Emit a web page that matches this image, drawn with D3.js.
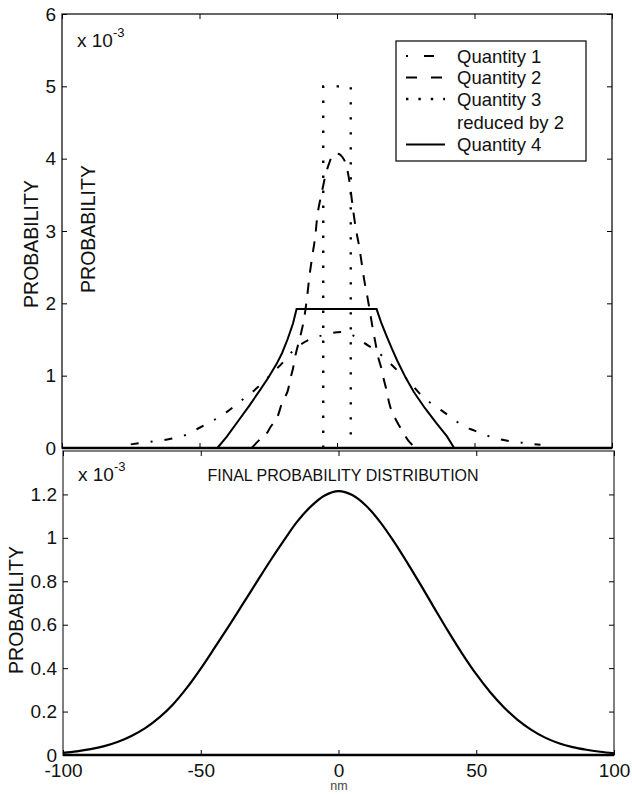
<!DOCTYPE html>
<html>
<head>
<meta charset="utf-8">
<script src="https://cdn.jsdelivr.net/npm/d3@7"></script>
<style>
  body { margin: 0; background: #fff; }
  svg { display: block; }
  text { font-family: Arial, "Liberation Sans", Helvetica, sans-serif; fill: #111; }
</style>
</head>
<body>
<svg id="canvas" width="632" height="794"></svg>
<script>
// values (probability in units of 1e-3, x in nm)
const q1X = [-75, -70, -65, -60, -55, -50, -45, -40, -35, -30, -25, -20, -15, -10, -5, 0, 3, 7, 10, 14, 18, 22, 25, 28, 32, 35, 38, 42, 46, 50, 54, 58, 62, 66, 70, 74];
const q1Y = [0.05, 0.075, 0.1, 0.13, 0.18, 0.28, 0.38, 0.5, 0.65, 0.8, 0.98, 1.17, 1.38, 1.5, 1.56, 1.6, 1.6, 1.53, 1.45, 1.35, 1.22, 1.07, 0.97, 0.84, 0.68, 0.6, 0.52, 0.41, 0.3, 0.24, 0.18, 0.13, 0.1, 0.08, 0.06, 0.045];

const q2X = [-31, -28, -26, -24, -22, -20, -18, -17, -16, -15, -14, -13, -12, -11, -10, -9, -8, -7, -6, -5, -4, -3, -2, -1, 0, 1, 2, 3, 4, 5, 6, 7, 8, 9, 10, 11, 12, 13, 14, 15, 16, 17, 18, 19, 20, 22, 24, 26, 28];
const q2Y = [0, 0.12, 0.18, 0.3, 0.4, 0.62, 0.78, 0.95, 1.1, 1.3, 1.45, 1.6, 1.78, 2.05, 2.38, 2.65, 2.9, 3.25, 3.45, 3.63, 3.8, 3.92, 4.02, 4.07, 4.07, 4.06, 4.02, 3.95, 3.8, 3.55, 3.25, 3.0, 2.8, 2.55, 2.3, 2.1, 1.88, 1.65, 1.45, 1.25, 1.12, 0.95, 0.8, 0.62, 0.5, 0.35, 0.22, 0.1, 0.02];

const q3X = [-5, -5, 5, 5];
const q3Y = [0, 5, 5, 0];

const q4X = [-43.5, -40, -36, -32, -28, -25, -22, -20, -18, -16, -14.7, 14.4, 16, 18, 20, 22, 25, 28, 32, 36, 40, 42.6];
const q4Y = [0, 0.16, 0.37, 0.58, 0.8, 0.97, 1.16, 1.31, 1.5, 1.72, 1.92, 1.92, 1.74, 1.55, 1.37, 1.2, 0.97, 0.77, 0.55, 0.35, 0.16, 0];

const finalX = [-100, -95, -90, -85, -80, -75, -70, -65, -60, -55, -50, -45, -40, -35, -30, -25, -20, -15, -10, -5, 0, 5, 10, 15, 20, 25, 30, 35, 40, 45, 50, 55, 60, 65, 70, 75, 80, 85, 90, 95, 100];
const finalY = [0.01, 0.017, 0.027, 0.041, 0.061, 0.089, 0.125, 0.173, 0.234, 0.31, 0.398, 0.493, 0.59, 0.69, 0.79, 0.89, 0.985, 1.075, 1.145, 1.195, 1.215, 1.197, 1.148, 1.075, 0.985, 0.885, 0.78, 0.672, 0.566, 0.465, 0.372, 0.29, 0.22, 0.162, 0.116, 0.08, 0.054, 0.036, 0.024, 0.015, 0.008];

const topYTicks = [0, 1, 2, 3, 4, 5, 6];
const bottomYTicks = [0, 0.2, 0.4, 0.6, 0.8, 1, 1.2];
const xTicks = [-100, -50, 0, 50, 100];

const legendLabels = ["Quantity 1", "Quantity 2", "Quantity 3", "reduced by 2", "Quantity 4"];

const svg = d3.select("#canvas");

const toPoints = (xs, ys) => xs.map((x, i) => [x, ys[i]]);
const plain = d => String(d);   // keep the ascii hyphen like the original

// ---------- top panel ----------
const xTop = d3.scaleLinear().domain([-100, 100]).range([62, 612]);
const yTop = d3.scaleLinear().domain([0, 6]).range([448, 14]);

const topPanel = svg.append("g");

topPanel.append("rect")
  .attr("x", 62).attr("y", 14)
  .attr("width", 550).attr("height", 434)
  .attr("fill", "none").attr("stroke", "#333").attr("stroke-width", 1.5);

// left / right ticks
topPanel.append("g")
  .attr("transform", "translate(62,0)")
  .call(d3.axisLeft(yTop).tickValues(topYTicks).tickSize(-5).tickPadding(6).tickFormat(plain))
  .call(g => g.select(".domain").remove())
  .call(g => g.selectAll("text").style("font-size", "19px"));
topPanel.append("g")
  .attr("transform", "translate(612,0)")
  .call(d3.axisRight(yTop).tickValues(topYTicks).tickSize(-5).tickFormat(""))
  .call(g => g.select(".domain").remove());
// bottom / top ticks, no labels
topPanel.append("g")
  .attr("transform", "translate(0,448)")
  .call(d3.axisBottom(xTop).tickValues(xTicks).tickSize(-5).tickFormat(""))
  .call(g => g.select(".domain").remove());
topPanel.append("g")
  .attr("transform", "translate(0,14)")
  .call(d3.axisTop(xTop).tickValues(xTicks).tickSize(-5).tickFormat(""))
  .call(g => g.select(".domain").remove());

const lineTop = d3.line().x(d => xTop(d[0])).y(d => yTop(d[1]));

topPanel.append("path")
  .datum(toPoints(q1X, q1Y))
  .attr("d", lineTop.curve(d3.curveCatmullRom))
  .attr("fill", "none").attr("stroke", "#000").attr("stroke-width", 2)
  .attr("stroke-dasharray", "8,12,2,12");

topPanel.append("path")
  .datum(toPoints(q2X, q2Y))
  .attr("d", lineTop.curve(d3.curveCatmullRom))
  .attr("fill", "none").attr("stroke", "#000").attr("stroke-width", 2)
  .attr("stroke-dasharray", "11,10");

topPanel.append("path")
  .datum(toPoints(q3X, q3Y))
  .attr("d", lineTop.curve(d3.curveLinear))
  .attr("fill", "none").attr("stroke", "#000").attr("stroke-width", 2.4)
  .attr("stroke-dasharray", "2.4,12.6");

topPanel.append("path")
  .datum(toPoints(q4X, q4Y))
  .attr("d", lineTop.curve(d3.curveLinear))
  .attr("fill", "none").attr("stroke", "#000").attr("stroke-width", 2);

// thick baseline of the top panel
topPanel.append("line")
  .attr("x1", 62).attr("x2", 612).attr("y1", 448).attr("y2", 448)
  .attr("stroke", "#000").attr("stroke-width", 2.5);

// exponent and axis labels
const exponent = (g, x, y) => {
  g.append("text").attr("x", x).attr("y", y).style("font-size", "19px").text("x 10");
  g.append("text").attr("x", x + 36).attr("y", y - 10).style("font-size", "13px").text("-3");
};
exponent(topPanel, 77, 47);

topPanel.append("text")
  .attr("transform", "translate(38,244) rotate(-90)")
  .attr("text-anchor", "middle").style("font-size", "19.5px")
  .text("PROBABILITY");
topPanel.append("text")
  .attr("transform", "translate(95,229) rotate(-90)")
  .attr("text-anchor", "middle").style("font-size", "19.5px")
  .text("PROBABILITY");

// legend
const legend = topPanel.append("g");
legend.append("rect")
  .attr("x", 396).attr("y", 41).attr("width", 190).attr("height", 120)
  .attr("fill", "#fff").attr("stroke", "#000").attr("stroke-width", 1.2);

const legendRows = [62.5, 84, 105.5, 129, 151];
const legendStyles = [
  { dash: "2,16,10,30", offset: 0, width: 2 },
  { dash: "11,14", offset: 0, width: 2 },
  { dash: "2.4,10", offset: 0, width: 2.4 },
  null,
  { dash: null, offset: 0, width: 2 }
];
legendLabels.forEach((label, i) => {
  legend.append("text")
    .attr("x", 457).attr("y", legendRows[i])
    .style("font-size", "18.5px")
    .text(label);
  const s = legendStyles[i];
  if (s) {
    legend.append("line")
      .attr("x1", 406).attr("x2", 445)
      .attr("y1", legendRows[i] - 6.5).attr("y2", legendRows[i] - 6.5)
      .attr("stroke", "#000").attr("stroke-width", s.width)
      .attr("stroke-dasharray", s.dash)
      .attr("stroke-dashoffset", s.offset);
  }
});

// ---------- bottom panel ----------
const xBot = d3.scaleLinear().domain([-100, 100]).range([63, 614]);
const yBot = d3.scaleLinear().domain([0, 1.4]).range([755, 451]);

const bottomPanel = svg.append("g");

bottomPanel.append("rect")
  .attr("x", 63).attr("y", 451)
  .attr("width", 551).attr("height", 304)
  .attr("fill", "none").attr("stroke", "#555").attr("stroke-width", 1.5);

bottomPanel.append("g")
  .attr("transform", "translate(63,0)")
  .call(d3.axisLeft(yBot).tickValues(bottomYTicks).tickSize(-5).tickPadding(6).tickFormat(plain))
  .call(g => g.select(".domain").remove())
  .call(g => g.selectAll("text").style("font-size", "19px"));
bottomPanel.append("g")
  .attr("transform", "translate(614,0)")
  .call(d3.axisRight(yBot).tickValues(bottomYTicks).tickSize(-5).tickFormat(""))
  .call(g => g.select(".domain").remove());
bottomPanel.append("g")
  .attr("transform", "translate(0,755)")
  .call(d3.axisBottom(xBot).tickValues(xTicks).tickSize(-5).tickPadding(9).tickFormat(plain))
  .call(g => g.select(".domain").remove())
  .call(g => g.selectAll("text").style("font-size", "19px"));
bottomPanel.append("g")
  .attr("transform", "translate(0,451)")
  .call(d3.axisTop(xBot).tickValues(xTicks).tickSize(-5).tickFormat(""))
  .call(g => g.select(".domain").remove());

bottomPanel.append("line")
  .attr("x1", 63).attr("x2", 614).attr("y1", 755).attr("y2", 755)
  .attr("stroke", "#000").attr("stroke-width", 2.5);

const lineBot = d3.line().x(d => xBot(d[0])).y(d => yBot(d[1])).curve(d3.curveCatmullRom);
bottomPanel.append("path")
  .datum(toPoints(finalX, finalY))
  .attr("d", lineBot)
  .attr("fill", "none").attr("stroke", "#000").attr("stroke-width", 2.2);

exponent(bottomPanel, 78, 481);

bottomPanel.append("text")
  .attr("x", 343).attr("y", 481)
  .attr("text-anchor", "middle").style("font-size", "16px")
  .text("FINAL PROBABILITY DISTRIBUTION");

bottomPanel.append("text")
  .attr("transform", "translate(23,610) rotate(-90)")
  .attr("text-anchor", "middle").style("font-size", "19.5px")
  .text("PROBABILITY");

bottomPanel.append("text")
  .attr("x", 339).attr("y", 790)
  .attr("text-anchor", "middle").style("font-size", "12.5px").style("fill", "#444")
  .text("nm");
</script>
</body>
</html>
